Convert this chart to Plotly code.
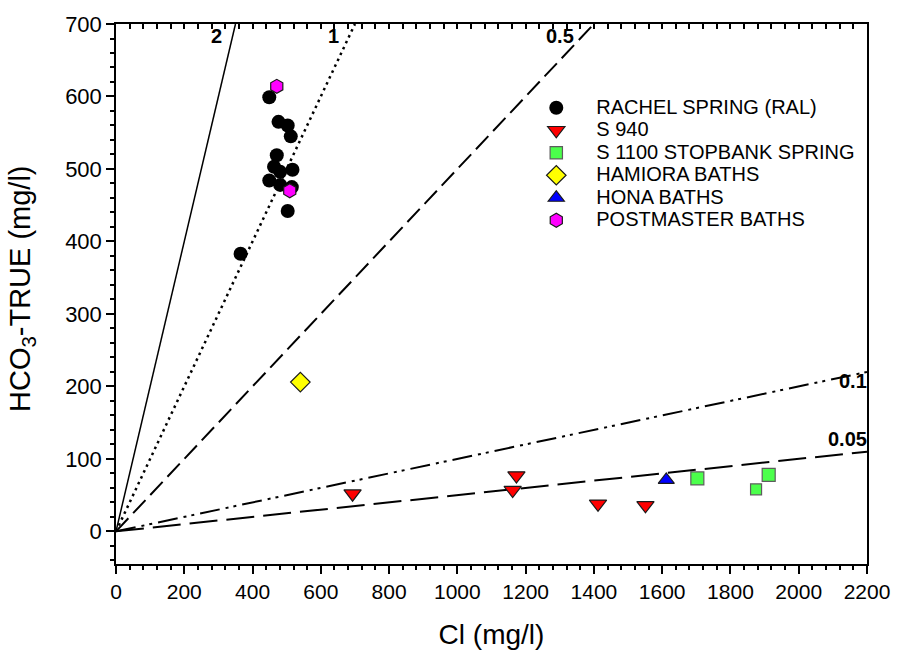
import plotly.graph_objects as go

# ---------------- data ----------------
rachel_cl = [449, 476, 503, 512, 471, 463, 481, 517, 449, 481, 515, 503, 365]
rachel_hco3 = [599, 565, 560, 545, 519, 503, 496, 499, 484, 478, 475, 442, 383]

s940_cl = [693, 1173, 1162, 1412, 1551]
s940_hco3 = [52, 77, 57, 38, 36]

s1100_cl = [1703, 1875, 1912]
s1100_hco3 = [73, 58, 78]

hamiora_cl = [540]
hamiora_hco3 = [206]

hona_cl = [1612]
hona_hco3 = [71]

postmaster_cl = [471, 509]
postmaster_hco3 = [614, 470]

series_names = ["RACHEL SPRING (RAL)", "S 940", "S 1100 STOPBANK SPRING",
                "HAMIORA BATHS", "HONA BATHS", "POSTMASTER BATHS"]

ratios = [2, 1, 0.5, 0.1, 0.05]
ratio_labels = ["2", "1", "0.5", "0.1", "0.05"]
label_x = [294, 636, 1300, 2200, 2200]
label_y = [684, 684, 684, 208, 128]

X_MAX = 2200
Y_MIN, Y_MAX = -45, 700

FONT = "Liberation Sans, Arial, sans-serif"


def legend_name(s):
    return "<span style='font-size:20px'>%s</span>" % s


fig = go.Figure()

# ratio lines
dash_styles = ["solid", "2.5px,4px", "18px,7px", "20px,6px,3px,5px,3px,6px", "28px,9px"]
widths = [1.5, 2.5, 2, 2, 2]
for r, d, w in zip(ratios, dash_styles, widths):
    xe = min(X_MAX, Y_MAX / r)
    fig.add_trace(go.Scatter(x=[0, xe], y=[0, r * xe], mode="lines",
                             line=dict(color="black", width=w, dash=d),
                             showlegend=False, hoverinfo="skip"))

edge = dict(color="#1a1a1a", width=1.2)
fig.add_trace(go.Scatter(x=rachel_cl, y=rachel_hco3, mode="markers", name=legend_name(series_names[0]),
                         marker=dict(symbol="circle", size=14, color="black", line=dict(color="black", width=0))))
fig.add_trace(go.Scatter(x=s940_cl, y=s940_hco3, mode="markers", name=legend_name(series_names[1]),
                         marker=dict(symbol="triangle-down", size=15, color="#ff0000", line=edge)))
fig.add_trace(go.Scatter(x=s1100_cl, y=s1100_hco3, mode="markers", name=legend_name(series_names[2]),
                         marker=dict(symbol="square", size=[13, 11, 13], color="#00ff00", line=edge)))
fig.add_trace(go.Scatter(x=hamiora_cl, y=hamiora_hco3, mode="markers", name=legend_name(series_names[3]),
                         marker=dict(symbol="diamond", size=15, color="#ffff00", line=edge)))
fig.add_trace(go.Scatter(x=hona_cl, y=hona_hco3, mode="markers", name=legend_name(series_names[4]),
                         marker=dict(symbol="triangle-up", size=14, color="#0000ff", line=edge)))
fig.add_trace(go.Scatter(x=postmaster_cl, y=postmaster_hco3, mode="markers", name=legend_name(series_names[5]),
                         marker=dict(symbol="hexagon", size=14, color="#ff00ff", line=edge)))

# invisible trace for top tick axis
fig.add_trace(go.Scatter(x=[0], y=[0], xaxis="x2", mode="markers",
                         marker=dict(opacity=0), showlegend=False, hoverinfo="skip"))

for t, x, y in zip(ratio_labels, label_x, label_y):
    right = t in ("0.1", "0.05")
    fig.add_annotation(x=x, y=y, text="<b>%s</b>" % t, showarrow=False,
                       xanchor="right" if right else "center",
                       xshift=2 if right else 0,
                       font=dict(family=FONT, size=20, color="black"))

# y-axis title as rotated text
fig.add_annotation(xref="paper", yref="paper", x=-0.126, y=0.51,
                   text="HCO<sub>3</sub>-TRUE (mg/l)", textangle=-90, showarrow=False,
                   xanchor="center", yanchor="middle",
                   font=dict(family=FONT, size=29, color="black"))

fig.update_layout(
    width=902, height=657,
    margin=dict(l=116, r=24, t=19, b=89),
    plot_bgcolor="white", paper_bgcolor="white",
    font=dict(family=FONT, size=21, color="black"),
    showlegend=True,
    legend=dict(x=0.533, y=0.875, xanchor="left", yanchor="top",
                itemwidth=70,
                bgcolor="rgba(0,0,0,0)", borderwidth=0,
                font=dict(family=FONT, size=15, color="black")),
    xaxis=dict(range=[0, X_MAX], tick0=0, dtick=200, showgrid=False, zeroline=False,
               showline=True, linecolor="black", linewidth=1.5, mirror=True,
               ticks="outside", ticklen=8, tickwidth=1.5, tickcolor="black",
               tickfont=dict(family=FONT, size=21),
               minor=dict(dtick=40, ticks="outside", ticklen=4, tickwidth=1.5, tickcolor="black"),
               title=dict(text="Cl (mg/l)", font=dict(family=FONT, size=28), standoff=22)),
    xaxis2=dict(range=[0, X_MAX], overlaying="x", side="top", tick0=0, dtick=40,
                showgrid=False, zeroline=False, showline=False, showticklabels=False,
                ticks="inside", ticklen=5, tickwidth=1.5, tickcolor="black"),
    yaxis=dict(range=[Y_MIN, Y_MAX], tick0=0, dtick=100, showgrid=False, zeroline=False,
               showline=True, linecolor="black", linewidth=1.5, mirror=True,
               ticks="outside", ticklen=8, tickwidth=1.5, tickcolor="black",
               tickfont=dict(family=FONT, size=22),
               minor=dict(dtick=20, tick0=0, ticks="outside", ticklen=4, tickwidth=1.5, tickcolor="black")),
)

fig.write_html("out.html")
